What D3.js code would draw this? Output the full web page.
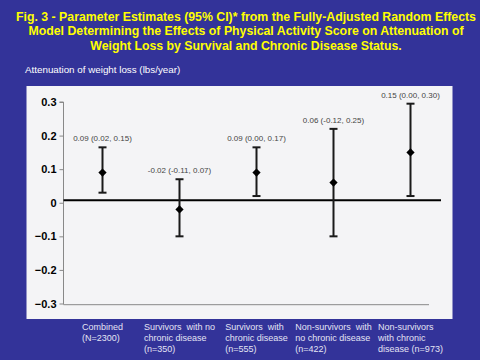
<!DOCTYPE html>
<html>
<head>
<meta charset="utf-8">
<script src="https://cdn.jsdelivr.net/npm/d3@7"></script>
<style>
  body { margin: 0; background: #333399; }
  svg { display: block; font-family: Arial, "Liberation Sans", sans-serif; }
</style>
</head>
<body>
<svg id="chart" width="480" height="360"></svg>
<script>
// data
const groups = ["Combined", "Surv no CD", "Surv CD", "NonSurv no CD", "NonSurv CD"];
const groupLines = [
    ["Combined", "(N=2300)"],
    ["Survivors  with no", "chronic disease", "(n=350)"],
    ["Survivors  with", "chronic disease", "(n=555)"],
    ["Non-survivors  with", "no chronic disease", "(n=422)"],
    ["Non-survivors", "with chronic", "disease (n=973)"]
];
const estimate = [0.09, -0.02, 0.09, 0.06, 0.15];
const lower = [0.03, -0.10, 0.02, -0.10, 0.02];
const upper = [0.165, 0.07, 0.165, 0.22, 0.295];
const estLabels = ["0.09 (0.02, 0.15)", "-0.02 (-0.11, 0.07)", "0.09 (0.00, 0.17)",
    "0.06 (-0.12, 0.25)", "0.15 (0.00, 0.30)"];
const yTicks = [0.3, 0.2, 0.1, 0, -0.1, -0.2, -0.3];
const titleLines = [
    "Fig. 3 - Parameter Estimates (95% CI)* from the Fully-Adjusted Random Effects",
    "Model Determining the Effects of Physical Activity Score on Attenuation of",
    "Weight Loss by Survival and Chronic Disease Status."
];

const svg = d3.select("#chart");

// title
svg.append("g")
    .selectAll("text")
    .data(titleLines)
    .join("text")
    .attr("x", 246)
    .attr("y", (d, i) => 20.5 + i * 14.5)
    .attr("text-anchor", "middle")
    .attr("fill", "#ffff00")
    .attr("font-weight", "bold")
    .attr("font-size", 12.3)
    .text(d => d);

svg.append("text")
    .attr("x", 25)
    .attr("y", 72.5)
    .attr("fill", "#ffffff")
    .attr("font-size", 9.8)
    .text("Attenuation of weight loss (lbs/year)");

// plot panel
svg.append("rect")
    .attr("x", 26.5)
    .attr("y", 86)
    .attr("width", 426)
    .attr("height", 233)
    .attr("fill", "#f4f4f6");

const x = d3.scaleBand().domain(groups).range([64, 449]);
const y = d3.scaleLinear().domain([-0.3, 0.3]).range([303.5, 102]);
const cx = d => x(d) + x.bandwidth() / 2;

// y axis
const yAxis = svg.append("g")
    .attr("transform", "translate(63.5,0)")
    .call(d3.axisLeft(y).tickValues(yTicks).tickSize(4).tickPadding(3)
        .tickFormat(d => d === 0 ? "0" : d3.format(".1f")(d)));
yAxis.select(".domain").attr("stroke", "#888").attr("d", `M-4,${y(0.3)}H0V${y(-0.3) + 1}`);
yAxis.selectAll(".tick line").attr("stroke", "#888");
yAxis.selectAll(".tick text")
    .attr("fill", "#000")
    .attr("font-size", 11)
    .attr("font-weight", "bold")
    .attr("font-family", "Arial, 'Liberation Sans', sans-serif");

// bottom axis line
svg.append("line")
    .attr("x1", 63.5).attr("x2", 429)
    .attr("y1", y(-0.3) + 1.2).attr("y2", y(-0.3) + 1.2)
    .attr("stroke", "#888");

// zero reference line
svg.append("line")
    .attr("x1", 63.5).attr("x2", 441)
    .attr("y1", y(0) - 2.5).attr("y2", y(0) - 2.5)
    .attr("stroke", "#000")
    .attr("stroke-width", 2);

// error bars
const bars = svg.append("g")
    .selectAll("g")
    .data(groups)
    .join("g");

bars.append("line")
    .attr("x1", d => cx(d)).attr("x2", d => cx(d))
    .attr("y1", (d, i) => y(lower[i])).attr("y2", (d, i) => y(upper[i]))
    .attr("stroke", "#1a1a1a").attr("stroke-width", 2);

bars.selectAll(".cap")
    .data((d, i) => [lower[i], upper[i]].map(v => ({g: d, v})))
    .join("line")
    .attr("class", "cap")
    .attr("x1", d => cx(d.g) - 4).attr("x2", d => cx(d.g) + 4)
    .attr("y1", d => y(d.v)).attr("y2", d => y(d.v))
    .attr("stroke", "#1a1a1a").attr("stroke-width", 2);

bars.append("path")
    .attr("d", d3.symbol(d3.symbolSquare, 34))
    .attr("transform", (d, i) => `translate(${cx(d)},${y(estimate[i])}) rotate(45)`)
    .attr("fill", "#000");

bars.append("text")
    .attr("x", d => cx(d))
    .attr("y", (d, i) => y(upper[i]) - 6)
    .attr("text-anchor", "middle")
    .attr("font-size", 8)
    .attr("fill", "#444")
    .text((d, i) => estLabels[i]);

// category labels, lines left-aligned and block centred on the bar
groups.forEach((g, i) => {
    const t = svg.append("text")
        .attr("fill", "#e4e4f4")
        .attr("font-size", 9)
        .style("white-space", "pre");
    t.selectAll("tspan")
        .data(groupLines[i])
        .join("tspan")
        .attr("dy", (d, j) => j === 0 ? 0 : 11.3)
        .text(d => d);
    let w = 0;
    t.selectAll("tspan").each(function() {
        w = Math.max(w, this.getComputedTextLength());
    });
    t.attr("y", 329.5);
    t.selectAll("tspan").attr("x", cx(g) - w / 2);
});
</script>
</body>
</html>
